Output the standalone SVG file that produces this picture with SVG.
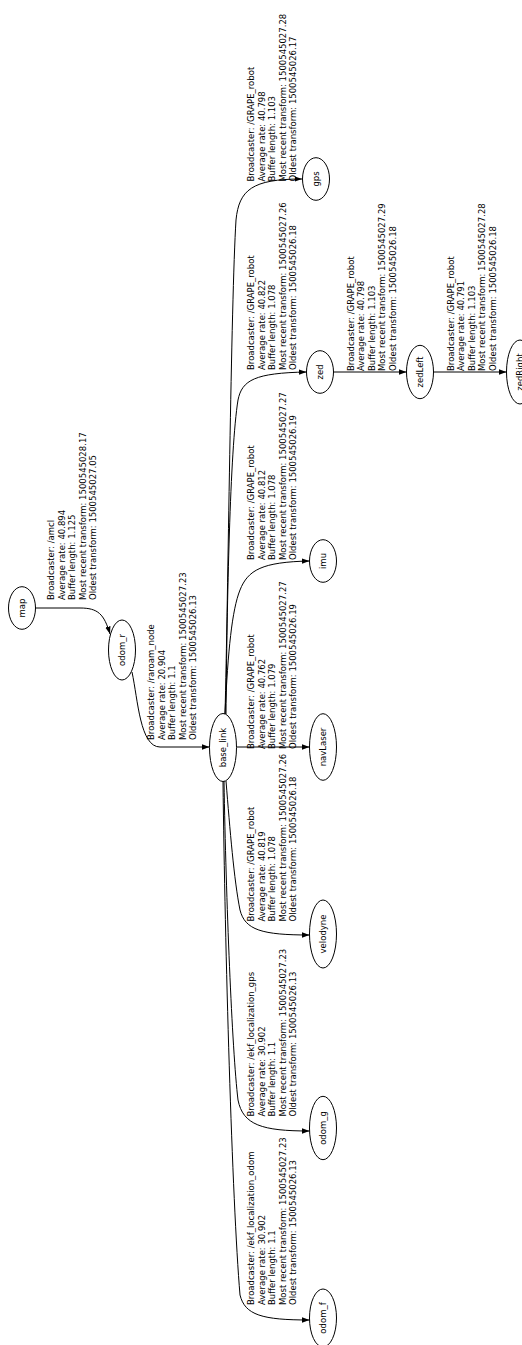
<svg xmlns="http://www.w3.org/2000/svg" width="522" height="1345" viewBox="0 0 522 1345">
<style>
.n ellipse{fill:none;stroke:#000;stroke-width:1}
.n text{font-family:"DejaVu Sans",sans-serif;font-size:8.5px;text-anchor:middle;fill:#000}
.e path{fill:none;stroke:#000;stroke-width:1;marker-end:url(#ah)}
.lb{font-family:"DejaVu Sans",sans-serif;font-size:8.5px;fill:#000}
</style>
<defs>
<marker id="ah" markerUnits="userSpaceOnUse" markerWidth="9" markerHeight="7" refX="7.5" refY="2.7" orient="auto"><path d="M0,0 L7.5,2.7 L0,5.4 z" fill="#000"/></marker>
</defs>
<rect width="522" height="1345" fill="#fff"/>
<g id="edges" class="e">
<path d="M35.5,608 L80,608 C98,608 104,614 110,634"/>
<path d="M132,672 C138,700 140,747 160,747 L209.5,747"/>
<path d="M225,714 C228,600 231,300 236,220 C239,190 252,179 302,179"/>
<path d="M226,714 C227,600 230,450 238,400 C242,380 255,373 306.5,372"/>
<path d="M225,714 C228,650 232,610 240,590 C248,570 262,562 309.5,561"/>
<path d="M236.5,747 L309.5,747"/>
<path d="M226,781 C230,830 234,880 240,910 C245,930 262,935 309.5,935"/>
<path d="M224,781 C226,900 232,1050 238,1100 C243,1125 262,1131 309.5,1131"/>
<path d="M223,781.5 C225,950 232,1200 240,1295 C245,1315 262,1320 309.5,1320"/>
<path d="M333.5,372 L406.5,372"/>
<path d="M433.5,372 L506.5,372"/>
</g>
<g id="labels" class="lb">
<text transform="translate(54,600) rotate(-90)"><tspan x="0">Broadcaster: /amcl</tspan><tspan x="0" dy="10.5">Average rate: 40.894</tspan><tspan x="0" dy="10.5">Buffer length: 1.125</tspan><tspan x="0" dy="10.5">Most recent transform: 1500545028.17</tspan><tspan x="0" dy="10.5">Oldest transform: 1500545027.05</tspan></text>
<text transform="translate(154,740) rotate(-90)"><tspan x="0">Broadcaster: /raroam_node</tspan><tspan x="0" dy="10.5">Average rate: 20.904</tspan><tspan x="0" dy="10.5">Buffer length: 1.1</tspan><tspan x="0" dy="10.5">Most recent transform: 1500545027.23</tspan><tspan x="0" dy="10.5">Oldest transform: 1500545026.13</tspan></text>
<text transform="translate(254,181.5) rotate(-90)"><tspan x="0">Broadcaster: /GRAPE_robot</tspan><tspan x="0" dy="10.5">Average rate: 40.798</tspan><tspan x="0" dy="10.5">Buffer length: 1.103</tspan><tspan x="0" dy="10.5">Most recent transform: 1500545027.28</tspan><tspan x="0" dy="10.5">Oldest transform: 1500545026.17</tspan></text>
<text transform="translate(254,370) rotate(-90)"><tspan x="0">Broadcaster: /GRAPE_robot</tspan><tspan x="0" dy="10.5">Average rate: 40.822</tspan><tspan x="0" dy="10.5">Buffer length: 1.078</tspan><tspan x="0" dy="10.5">Most recent transform: 1500545027.26</tspan><tspan x="0" dy="10.5">Oldest transform: 1500545026.18</tspan></text>
<text transform="translate(254,560) rotate(-90)"><tspan x="0">Broadcaster: /GRAPE_robot</tspan><tspan x="0" dy="10.5">Average rate: 40.812</tspan><tspan x="0" dy="10.5">Buffer length: 1.078</tspan><tspan x="0" dy="10.5">Most recent transform: 1500545027.27</tspan><tspan x="0" dy="10.5">Oldest transform: 1500545026.19</tspan></text>
<text transform="translate(254,749) rotate(-90)"><tspan x="0">Broadcaster: /GRAPE_robot</tspan><tspan x="0" dy="10.5">Average rate: 40.762</tspan><tspan x="0" dy="10.5">Buffer length: 1.079</tspan><tspan x="0" dy="10.5">Most recent transform: 1500545027.27</tspan><tspan x="0" dy="10.5">Oldest transform: 1500545026.19</tspan></text>
<text transform="translate(254,921.5) rotate(-90)"><tspan x="0">Broadcaster: /GRAPE_robot</tspan><tspan x="0" dy="10.5">Average rate: 40.819</tspan><tspan x="0" dy="10.5">Buffer length: 1.078</tspan><tspan x="0" dy="10.5">Most recent transform: 1500545027.26</tspan><tspan x="0" dy="10.5">Oldest transform: 1500545026.18</tspan></text>
<text transform="translate(254,1116.5) rotate(-90)"><tspan x="0">Broadcaster: /ekf_localization_gps</tspan><tspan x="0" dy="10.5">Average rate: 30.902</tspan><tspan x="0" dy="10.5">Buffer length: 1.1</tspan><tspan x="0" dy="10.5">Most recent transform: 1500545027.23</tspan><tspan x="0" dy="10.5">Oldest transform: 1500545026.13</tspan></text>
<text transform="translate(254,1305) rotate(-90)"><tspan x="0">Broadcaster: /ekf_localization_odom</tspan><tspan x="0" dy="10.5">Average rate: 30.902</tspan><tspan x="0" dy="10.5">Buffer length: 1.1</tspan><tspan x="0" dy="10.5">Most recent transform: 1500545027.23</tspan><tspan x="0" dy="10.5">Oldest transform: 1500545026.13</tspan></text>
<text transform="translate(353.5,371) rotate(-90)"><tspan x="0">Broadcaster: /GRAPE_robot</tspan><tspan x="0" dy="10.5">Average rate: 40.798</tspan><tspan x="0" dy="10.5">Buffer length: 1.103</tspan><tspan x="0" dy="10.5">Most recent transform: 1500545027.29</tspan><tspan x="0" dy="10.5">Oldest transform: 1500545026.18</tspan></text>
<text transform="translate(453.5,371) rotate(-90)"><tspan x="0">Broadcaster: /GRAPE_robot</tspan><tspan x="0" dy="10.5">Average rate: 40.791</tspan><tspan x="0" dy="10.5">Buffer length: 1.103</tspan><tspan x="0" dy="10.5">Most recent transform: 1500545027.28</tspan><tspan x="0" dy="10.5">Oldest transform: 1500545026.18</tspan></text>
</g>
<g id="map" class="n"><ellipse cx="22" cy="608" rx="13.5" ry="21.3"/><text transform="translate(25,608) rotate(-90)">map</text></g>
<g id="odom_r" class="n"><ellipse cx="122" cy="650" rx="13.5" ry="30"/><text transform="translate(125,650) rotate(-90)">odom_r</text></g>
<g id="base_link" class="n"><ellipse cx="223" cy="747.5" rx="13.5" ry="34"/><text transform="translate(226,747.5) rotate(-90)">base_link</text></g>
<g id="gps" class="n"><ellipse cx="316" cy="179" rx="13.5" ry="21.3"/><text transform="translate(319,179) rotate(-90)">gps</text></g>
<g id="zed" class="n"><ellipse cx="320" cy="372" rx="13.5" ry="21.3"/><text transform="translate(323,372) rotate(-90)">zed</text></g>
<g id="imu" class="n"><ellipse cx="323" cy="561" rx="13.5" ry="21.3"/><text transform="translate(326,561) rotate(-90)">imu</text></g>
<g id="navLaser" class="n"><ellipse cx="323" cy="747" rx="13.5" ry="33.3"/><text transform="translate(326,747) rotate(-90)">navLaser</text></g>
<g id="velodyne" class="n"><ellipse cx="323" cy="934" rx="13.5" ry="34"/><text transform="translate(326,934) rotate(-90)">velodyne</text></g>
<g id="odom_g" class="n"><ellipse cx="323" cy="1128" rx="13.5" ry="31.7"/><text transform="translate(326,1128) rotate(-90)">odom_g</text></g>
<g id="odom_f" class="n"><ellipse cx="323" cy="1318" rx="13.5" ry="29"/><text transform="translate(326,1318) rotate(-90)">odom_f</text></g>
<g id="zedLeft" class="n"><ellipse cx="420" cy="372" rx="13.5" ry="26.7"/><text transform="translate(423,372) rotate(-90)">zedLeft</text></g>
<g id="zedRight" class="n"><ellipse cx="520" cy="372" rx="13.5" ry="32"/><text transform="translate(523,372) rotate(-90)">zedRight</text></g>
</svg>
